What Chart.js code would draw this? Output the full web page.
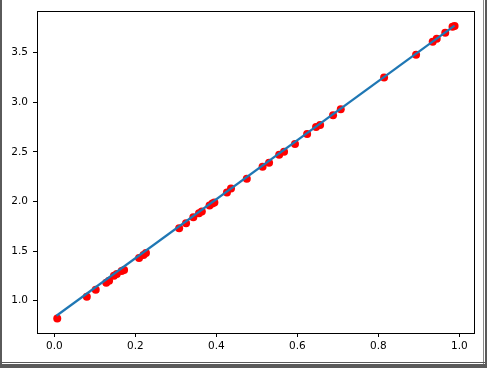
<!DOCTYPE html>
<html>
<head>
<meta charset="utf-8">
<script src="https://cdn.jsdelivr.net/npm/chart.js@4.4.0/dist/chart.umd.min.js"></script>
<style>
  html, body { margin: 0; padding: 0; background: #fff; }
  #wrap { position: relative; width: 487px; height: 368px; overflow: hidden; }
  #chart { position: absolute; left: 0; top: 0; }
  .edge { position: absolute; background: #5a5a5a; }
</style>
</head>
<body>
<div id="wrap">
  <canvas id="chart" width="487" height="368"></canvas>
  <div class="edge" style="left:0;top:0;width:2px;height:368px;"></div>
  <div class="edge" style="left:483px;top:0;width:1px;height:368px;background:#8a8a8a;"></div>
  <div class="edge" style="left:485px;top:0;width:2px;height:368px;"></div>
  <div class="edge" style="left:0;top:362px;width:487px;height:1px;"></div>
  <div class="edge" style="left:0;top:364px;width:487px;height:4px;"></div>
</div>
<script>
const pointX = [0.007, 0.080, 0.102, 0.128, 0.135, 0.147, 0.154, 0.166, 0.172, 0.209,
                0.220, 0.226, 0.308, 0.325, 0.343, 0.357, 0.364, 0.383, 0.390, 0.395,
                0.426, 0.436, 0.475, 0.514, 0.530, 0.555, 0.567, 0.594, 0.624, 0.646,
                0.656, 0.688, 0.707, 0.814, 0.893, 0.934, 0.944, 0.965, 0.983, 0.988];
const pointY = [0.82, 1.04, 1.11, 1.18, 1.20, 1.25, 1.27, 1.30, 1.31, 1.43,
                1.46, 1.48, 1.73, 1.78, 1.84, 1.88, 1.90, 1.96, 1.98, 1.99,
                2.09, 2.13, 2.23, 2.35, 2.39, 2.47, 2.50, 2.58, 2.68, 2.75,
                2.77, 2.87, 2.93, 3.25, 3.48, 3.61, 3.64, 3.70, 3.76, 3.77];
const lineX = [0.005, 0.988];
const lineY = [0.848, 3.772];
const xTicks = [0.0, 0.2, 0.4, 0.6, 0.8, 1.0];
const yTicks = [1.0, 1.5, 2.0, 2.5, 3.0, 3.5];

const frame = {
  id: 'frame',
  afterDraw(chart) {
    const a = chart.chartArea;
    const ctx = chart.ctx;
    ctx.save();
    ctx.strokeStyle = '#000';
    ctx.lineWidth = 1;
    ctx.strokeRect(Math.round(a.left) + 0.5, Math.round(a.top) + 0.5,
                   Math.round(a.right - a.left), Math.round(a.bottom - a.top));
    ctx.restore();
  }
};

const font = { family: 'DejaVu Sans', size: 10.5 };

new Chart(document.getElementById('chart'), {
  type: 'scatter',
  data: {
    datasets: [{
      type: 'line',
      data: lineX.map((x, i) => ({ x: x, y: lineY[i] })),
      borderColor: '#1f77b4',
      borderWidth: 2.2,
      pointRadius: 0,
      fill: false,
      order: 0
    }, {
      data: pointX.map((x, i) => ({ x: x, y: pointY[i] })),
      backgroundColor: '#ff0000',
      borderWidth: 0,
      pointRadius: 4,
      order: 1
    }]
  },
  options: {
    animation: false,
    responsive: false,
    layout: { padding: { top: 10, right: 13, left: 0, bottom: 0 } },
    plugins: { legend: { display: false }, tooltip: { enabled: false } },
    scales: {
      x: {
        type: 'linear',
        min: -0.043,
        max: 1.036,
        afterBuildTicks: s => { s.ticks = xTicks.map(v => ({ value: v })); },
        afterFit: s => { s.height = 35; },
        grid: { drawOnChartArea: false, drawTicks: true, tickLength: 4, color: '#000' },
        border: { display: true, color: '#000' },
        ticks: { font: font, color: '#000', padding: 3, maxRotation: 0,
                 callback: v => Number(v).toFixed(1) }
      },
      y: {
        type: 'linear',
        min: 0.674,
        max: 3.917,
        afterBuildTicks: s => { s.ticks = yTicks.map(v => ({ value: v })); },
        afterFit: s => { s.width = 37; },
        grid: { drawOnChartArea: false, drawTicks: true, tickLength: 4, color: '#000' },
        border: { display: true, color: '#000' },
        ticks: { font: font, color: '#000', padding: 5,
                 callback: v => Number(v).toFixed(1) }
      }
    }
  },
  plugins: [frame]
});
</script>
</body>
</html>
